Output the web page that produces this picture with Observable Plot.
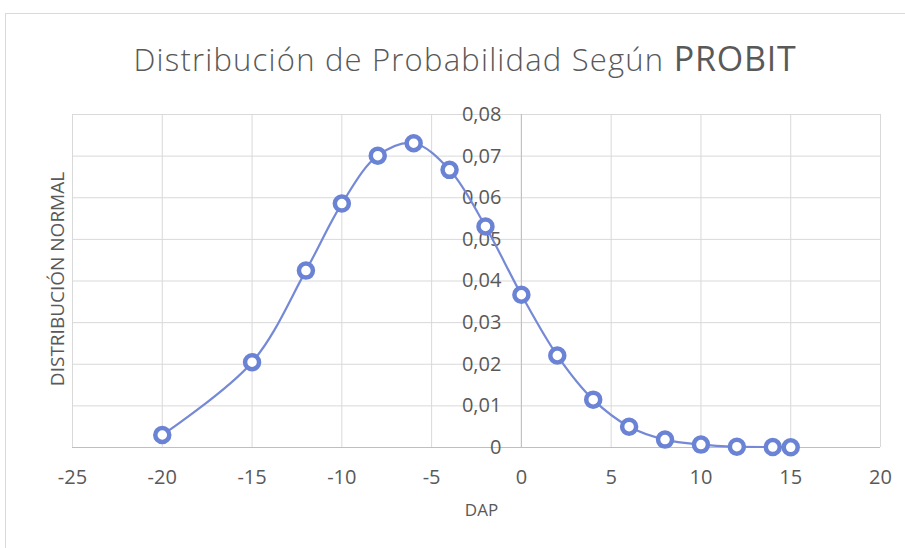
<!DOCTYPE html>
<html>
<head>
<meta charset="utf-8">
<script src="https://cdn.jsdelivr.net/npm/d3@7"></script>
<script src="https://cdn.jsdelivr.net/npm/@observablehq/plot@0.6"></script>
<style>
  html, body { margin: 0; padding: 0; background: #fff; }
  body { width: 905px; height: 548px; overflow: hidden; position: relative; font-family: "Open Sans", sans-serif; }
  #frame { position: absolute; left: 5px; top: 13px; width: 940px; height: 600px; border: 1px solid #d9d9d9; box-sizing: border-box; }
  #title { position: relative; height: 90px; width: 905px; }
  #title div { position: absolute; left: 0; width: 930px; top: 35px; text-align: center; color: #595959; font-size: 31px; font-weight: 300; white-space: nowrap; letter-spacing: 1.2px; }
  #title span { font-size: 34px; font-weight: 400; letter-spacing: 0.8px; }
  #chart { position: relative; }
</style>
</head>
<body>
<div id="frame"></div>
<div id="title"><div>Distribución de Probabilidad Según <span>PROBIT</span></div></div>
<div id="chart"></div>
<script>
const dap = [-20, -15, -12, -10, -8, -6, -4, -2, 0, 2, 4, 6, 8, 10, 12, 14, 15];
const normal = [0.003, 0.0205, 0.0425, 0.0586, 0.0701, 0.0731, 0.0667, 0.0531, 0.0367, 0.0221, 0.0115, 0.005, 0.0019, 0.0007, 0.0002, 0.0001, 0.00005];
const xTicks = [-25, -20, -15, -10, -5, 0, 5, 10, 15, 20];
const yTicks = [0, 0.01, 0.02, 0.03, 0.04, 0.05, 0.06, 0.07, 0.08];
const yTickLabels = ["0", "0,01", "0,02", "0,03", "0,04", "0,05", "0,06", "0,07", "0,08"];
const xTitle = "DAP";
const yTitle = "DISTRIBUCIÓN NORMAL";

const data = dap.map((x, i) => ({x, y: normal[i]}));
const yLab = yTicks.map((v, i) => ({v, t: yTickLabels[i]}));

const textColor = "#595959";
const plot = Plot.plot({
  width: 905,
  height: 458,
  marginLeft: 72,
  marginRight: 25,
  marginTop: 24,
  marginBottom: 101,
  style: {fontFamily: "'Open Sans', sans-serif", background: "transparent"},
  x: {domain: [-25, 20]},
  y: {domain: [0, 0.08], axis: null},
  marks: [
    Plot.gridX(xTicks, {stroke: "#d9d9d9", strokeOpacity: 1}),
    Plot.gridY(yTicks, {stroke: "#d9d9d9", strokeOpacity: 1}),
    Plot.ruleY([0], {stroke: "#bfbfbf"}),
    Plot.ruleX([0], {stroke: "#bfbfbf"}),
    Plot.axisX(xTicks, {tickSize: 0, tickPadding: 22, fontSize: 20, fill: textColor, tickFormat: d => String(d), label: null}),
    Plot.text(yLab, {x: 0, y: "v", text: "t", textAnchor: "end", dx: -20, fontSize: 20, fill: textColor}),
    Plot.text([yTitle], {frameAnchor: "left", textAnchor: "middle", rotate: -90, dx: -15, dy: -2, fontSize: 19, letterSpacing: 0.6, fill: textColor}),
    Plot.text([xTitle], {frameAnchor: "bottom", dx: 5, dy: 68, fontSize: 17, fill: textColor}),
    Plot.line(data, {x: "x", y: "y", curve: "catmull-rom", stroke: "#7589d6", strokeWidth: 2.2}),
    Plot.dot(data, {x: "x", y: "y", r: 7, fill: "white", stroke: "#6b83d4", strokeWidth: 4.5})
  ]
});
document.getElementById("chart").appendChild(plot);
</script>
</body>
</html>
